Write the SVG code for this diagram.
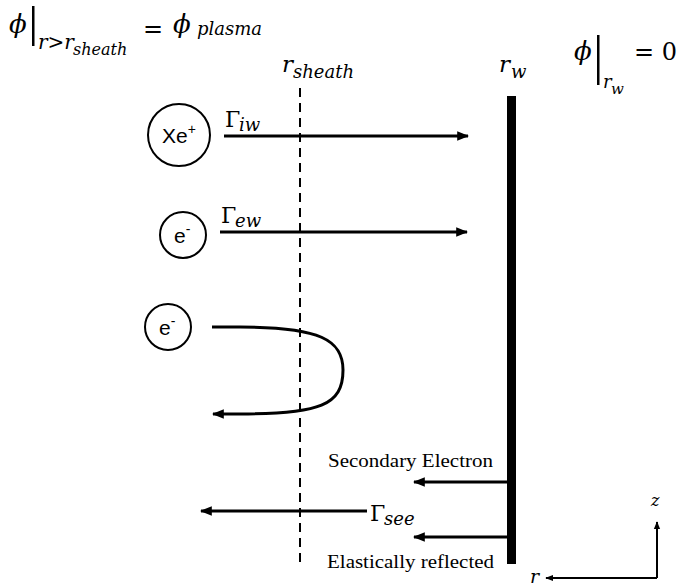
<svg xmlns="http://www.w3.org/2000/svg" width="678" height="586" viewBox="0 0 678 586">
<defs>
<style>
.m{font-family:"DejaVu Serif","Liberation Serif",serif;font-style:italic;fill:#000}
.mu{font-family:"DejaVu Serif","Liberation Serif",serif;fill:#000}
.t{font-family:'Liberation Serif','Times New Roman',Tinos,'DejaVu Serif',serif;font-size:19px;fill:#000}
.s{font-family:"Liberation Sans",Arial,sans-serif;font-size:21px;fill:#000}
.ln{stroke:#000;stroke-width:3;fill:none}
.c{stroke:#000;stroke-width:2;fill:#fff}
</style>
<marker id="ah" viewBox="0 0 10 10" refX="9" refY="5" markerWidth="4" markerHeight="4" orient="auto-start-reverse" markerUnits="strokeWidth">
<path d="M0,1 L10,5 L0,9 Z" fill="#000"/>
</marker>
</defs>
<rect width="678" height="586" fill="#fff"/>

<g id="label-phi-plasma">
<text class="m" x="9" y="33" font-size="26">ϕ</text>
<rect x="32" y="6" width="2.5" height="40" fill="#000"/>
<text class="m" x="38" y="49" font-size="20">r&gt;r</text>
<text class="m" x="73" y="55" font-size="16">sheath</text>
<text class="mu" x="143" y="37" font-size="24">=</text>
<text class="m" x="173" y="33" font-size="26">ϕ</text>
<text class="m" x="197" y="35" font-size="18">plasma</text>
</g>

<g id="label-phi-wall">
<text class="m" x="574" y="60" font-size="26">ϕ</text>
<rect x="597" y="35" width="2.5" height="50" fill="#000"/>
<text class="m" x="603" y="88" font-size="18">r</text>
<text class="m" x="611" y="94" font-size="15">w</text>
<text class="mu" x="634" y="60" font-size="24">= 0</text>
</g>

<g id="label-rsheath">
<text class="m" x="282" y="72" font-size="23">r</text>
<text class="m" x="293" y="78" font-size="18">sheath</text>
</g>
<g id="label-rw">
<text class="m" x="499" y="72" font-size="23">r</text>
<text class="m" x="511" y="78" font-size="18">w</text>
</g>

<g id="wall"><rect x="507" y="96" width="9" height="468" fill="#000"/></g>
<g id="sheath"><line x1="300" y1="88" x2="300" y2="562" stroke="#000" stroke-width="2" stroke-dasharray="9,6"/></g>

<g id="node-xe">
<circle class="c" cx="179" cy="135" r="31"/>
<text class="s" x="162" y="143">Xe<tspan font-size="14" dy="-9">+</tspan></text>
</g>
<g id="node-e1">
<circle class="c" cx="183" cy="235" r="23"/>
<text class="s" x="174" y="243">e<tspan font-size="14" dy="-9">-</tspan></text>
</g>
<g id="node-e2">
<circle class="c" cx="168" cy="327" r="23"/>
<text class="s" x="159" y="335">e<tspan font-size="14" dy="-9">-</tspan></text>
</g>

<g id="connectors">
<line class="ln" x1="224" y1="136" x2="468" y2="136" marker-end="url(#ah)"/>
<line class="ln" x1="220" y1="232" x2="467" y2="232" marker-end="url(#ah)"/>
<path class="ln" d="M212,327 L240,327 C320,327 343,340 343,370 C343,405 320,414 240,414 L213,414" marker-end="url(#ah)"/>
<line class="ln" x1="508" y1="482" x2="414" y2="482" marker-end="url(#ah)"/>
<line class="ln" x1="508" y1="537" x2="414" y2="537" marker-end="url(#ah)"/>
<line class="ln" x1="367" y1="511" x2="201" y2="511" marker-end="url(#ah)"/>
<line stroke="#000" stroke-width="2" x1="657" y1="578" x2="657" y2="522" marker-end="url(#ah)"/>
<line stroke="#000" stroke-width="2" x1="657" y1="578" x2="546" y2="578" marker-end="url(#ah)"/>
</g>

<g id="labels">
<text class="mu" x="225" y="127" font-size="22">Γ</text><text class="m" x="239" y="131" font-size="18">iw</text>
<text class="mu" x="221" y="223" font-size="22">Γ</text><text class="m" x="235" y="227" font-size="18">ew</text>
<text class="mu" x="370" y="521" font-size="22">Γ</text><text class="m" x="384" y="525" font-size="18">see</text>
<text class="t" x="328" y="467" textLength="165" lengthAdjust="spacingAndGlyphs">Secondary Electron</text>
<text class="t" x="327" y="568" textLength="167" lengthAdjust="spacingAndGlyphs">Elastically reflected</text>
<text class="m" x="651" y="506" font-size="16">z</text>
<text class="m" x="530" y="583" font-size="19">r</text>
</g>
</svg>
